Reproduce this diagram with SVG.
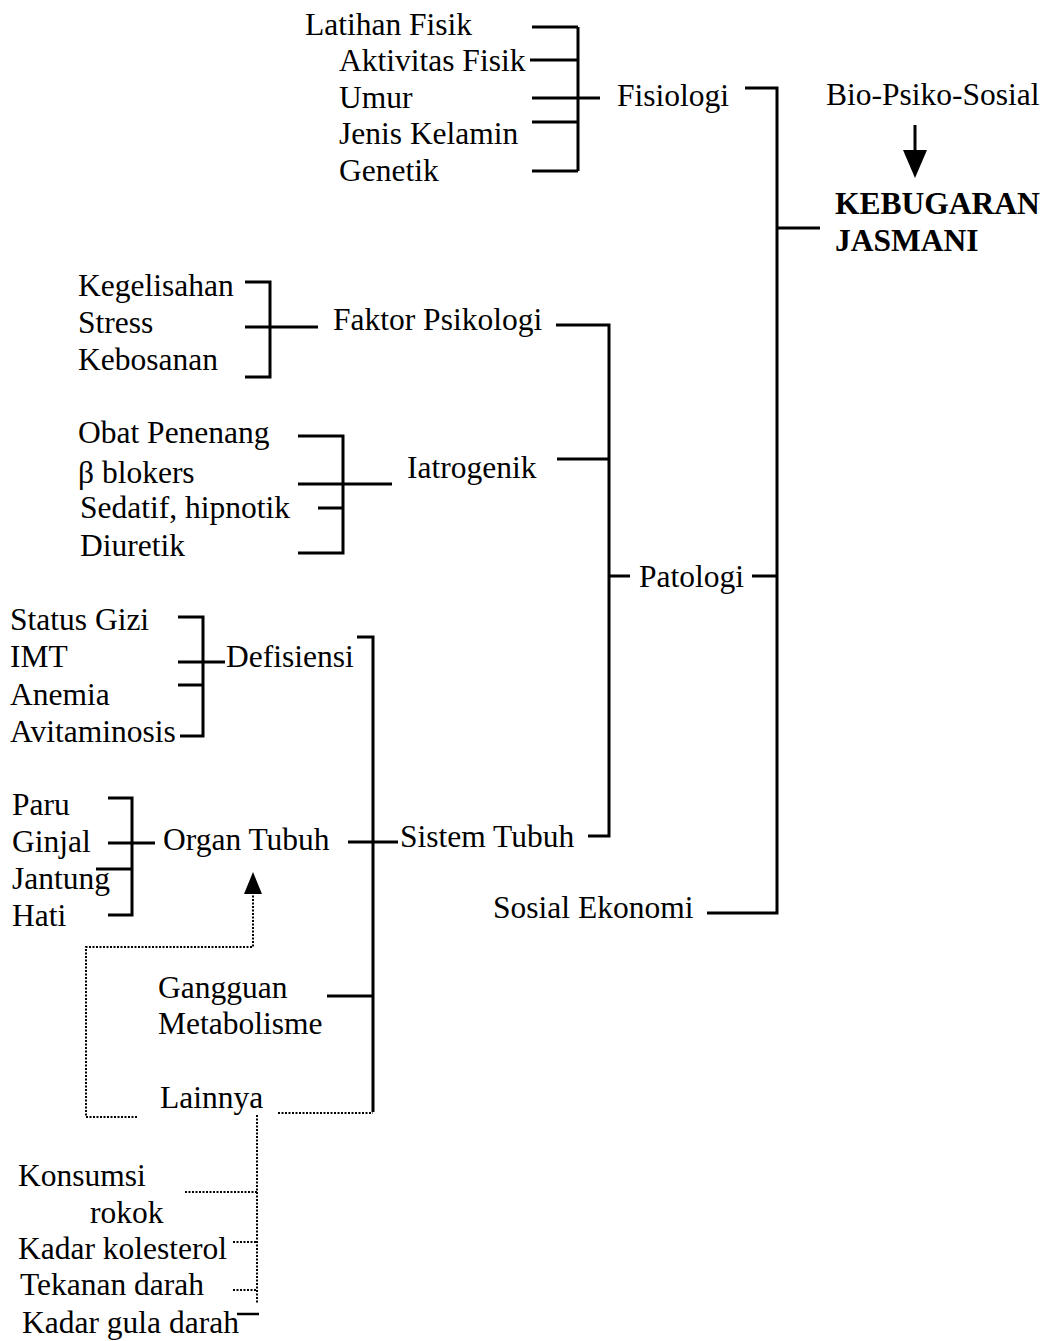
<svg xmlns="http://www.w3.org/2000/svg" width="1045" height="1341" viewBox="0 0 1045 1341">
<style>
text{font-family:"Liberation Serif","Times New Roman",serif;font-size:31.5px;fill:#000}
.b{font-weight:bold}
.s{fill:none;stroke:#000;stroke-width:3}
.d{fill:none;stroke:#000;stroke-width:2;stroke-dasharray:2 1.5}
</style>
<defs>
<marker id="ah" viewBox="0 0 10 10" refX="9" refY="5" markerWidth="7" markerHeight="7" orient="auto" markerUnits="userSpaceOnUse">
<path d="M0,0 L10,5 L0,10 z" fill="#000"/>
</marker>
</defs>
<rect width="1045" height="1341" fill="#fff"/>
<g id="connectors">
<!-- Fisiologi bracket -->
<path class="s" d="M532,27 H578 M530,60 H578 M532,98 H600 M532,122 H578 M532,171 H578 M578,27 V171"/>
<!-- main right bracket -->
<path class="s" d="M745,88 H777 V913 H707 M777,228 H820 M752,576 H777"/>
<!-- Psikologi bracket -->
<path class="s" d="M245,282 H270 V377 H245 M245,327 H318"/>
<!-- Iatrogenik bracket -->
<path class="s" d="M298,436 H343 V553 H298 M298,484 H392 M318,508 H343"/>
<!-- Patologi bracket -->
<path class="s" d="M556,325 H609 V836 H588 M557,459 H609 M609,576 H630"/>
<!-- Defisiensi bracket -->
<path class="s" d="M178,617 H203 V736 H180 M178,662 H225 M178,685 H203"/>
<!-- Sistem Tubuh bracket -->
<path class="s" d="M357,637 H373 V1112 M348,842 H398 M327,996 H373"/>
<!-- Organ Tubuh bracket -->
<path class="s" d="M108,798 H132 V915 H108 M108,843 H155 M96,869 H132"/>
<!-- dotted -->
<path class="d" d="M137,1117 H86 V947 H253 V893"/>
<polygon points="253,872 244,894 262,894" fill="#000"/>
<path class="d" d="M278,1113 H373"/>
<path class="d" d="M257,1115 V1303 M185,1192 H257 M233,1242 H257 M233,1290 H257"/>
<path class="s" d="M237,1314 H259" style="stroke-width:2.5"/>
<!-- arrow -->
<line x1="915" y1="125" x2="915" y2="152" class="s"/>
<polygon points="915,178 903,150 927,150" fill="#000"/>
</g>
<g id="latihan"><text x="305" y="35">Latihan Fisik</text></g>
<g id="aktivitas"><text x="339" y="71">Aktivitas Fisik</text></g>
<g id="umur"><text x="339" y="108">Umur</text></g>
<g id="jenis"><text x="339" y="144">Jenis Kelamin</text></g>
<g id="genetik"><text x="339" y="181">Genetik</text></g>
<g id="fisiologi"><text x="617" y="106">Fisiologi</text></g>
<g id="biopsiko"><text x="826" y="105">Bio-Psiko-Sosial</text></g>
<g id="kebugaran"><text class="b" x="835" y="214">KEBUGARAN</text><text class="b" x="835" y="251">JASMANI</text></g>
<g id="kegelisahan"><text x="78" y="296">Kegelisahan</text></g>
<g id="stress"><text x="78" y="333">Stress</text></g>
<g id="kebosanan"><text x="78" y="370">Kebosanan</text></g>
<g id="psikologi"><text x="333" y="330">Faktor Psikologi</text></g>
<g id="obat"><text x="78" y="443">Obat Penenang</text></g>
<g id="beta"><text x="78" y="483">β blokers</text></g>
<g id="sedatif"><text x="80" y="518">Sedatif, hipnotik</text></g>
<g id="diuretik"><text x="80" y="556">Diuretik</text></g>
<g id="iatrogenik"><text x="407" y="478">Iatrogenik</text></g>
<g id="patologi"><text x="639" y="587">Patologi</text></g>
<g id="statusgizi"><text x="10" y="630">Status Gizi</text></g>
<g id="imt"><text x="10" y="667">IMT</text></g>
<g id="anemia"><text x="10" y="705">Anemia</text></g>
<g id="avitaminosis"><text x="10" y="742">Avitaminosis</text></g>
<g id="defisiensi"><text x="226" y="667">Defisiensi</text></g>
<g id="paru"><text x="12" y="815">Paru</text></g>
<g id="ginjal"><text x="12" y="852">Ginjal</text></g>
<g id="jantung"><text x="12" y="889">Jantung</text></g>
<g id="hati"><text x="12" y="926">Hati</text></g>
<g id="organ"><text x="163" y="850">Organ Tubuh</text></g>
<g id="sistem"><text x="400" y="847">Sistem Tubuh</text></g>
<g id="sosial"><text x="493" y="918">Sosial Ekonomi</text></g>
<g id="gangguan"><text x="158" y="998">Gangguan</text><text x="158" y="1034">Metabolisme</text></g>
<g id="lainnya"><text x="160" y="1108">Lainnya</text></g>
<g id="konsumsi"><text x="18" y="1186">Konsumsi</text><text x="90" y="1223">rokok</text></g>
<g id="kolesterol"><text x="18" y="1259">Kadar kolesterol</text></g>
<g id="tekanan"><text x="20" y="1295">Tekanan darah</text></g>
<g id="gula"><text x="22" y="1333">Kadar gula darah</text></g>
</svg>
